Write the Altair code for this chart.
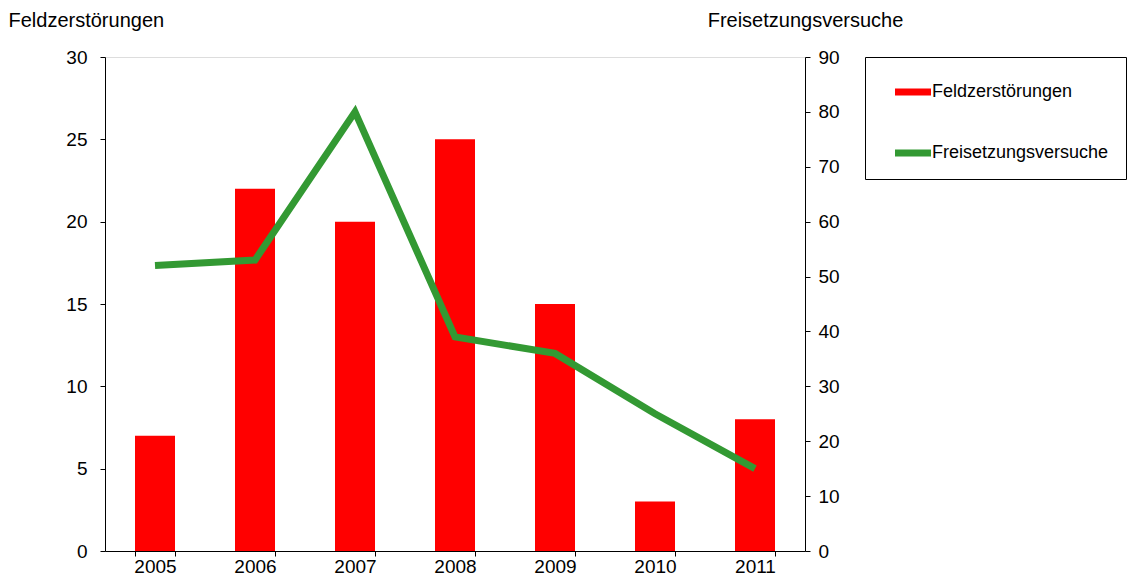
import altair as alt
import pandas as pd

years = ["2005", "2006", "2007", "2008", "2009", "2010", "2011"]
feldzerstoerungen = [7, 22, 20, 25, 15, 3, 8]
freisetzungsversuche = [52, 53, 80, 39, 36, 25, 15]

bar_df = pd.DataFrame({"year": years, "value": feldzerstoerungen, "series": "Feldzerstörungen"})
line_df = pd.DataFrame({"year": years, "value": freisetzungsversuche, "series": "Freisetzungsversuche"})

FONT = "Liberation Sans"
color_scale = alt.Scale(domain=["Feldzerstörungen", "Freisetzungsversuche"], range=["#ff0000", "#339933"])

xenc = alt.X("year:N", title=None, sort=years,
             scale=alt.Scale(paddingInner=0.6, paddingOuter=0.3),
             axis=alt.Axis(labelAngle=0, tickBand="extent", labelPadding=1, tickSize=5,
                           domainColor="#000", tickColor="#000", labelFontSize=19,
                           labelFont=FONT, labelColor="#000"))

legend = alt.Legend(title=None, orient="none", legendX=760, legendY=0,
                    symbolType="M-1,-0.2H1V0.2H-1Z", symbolSize=1296,
                    symbolStrokeWidth=0, labelFontSize=18, labelFont=FONT, labelColor="#000",
                    labelLimit=400, rowPadding=34, padding=17, strokeColor="#000",
                    fillColor="#fff", symbolOffset=13, labelOffset=1)

bars = alt.Chart(bar_df).mark_bar(size=40).encode(
    x=xenc,
    y=alt.Y("value:Q", scale=alt.Scale(domain=[0, 30], nice=False),
            axis=alt.Axis(values=[0, 5, 10, 15, 20, 25, 30], title="Feldzerstörungen",
                          titleAngle=0, titleX=-97, titleY=-37, titleAlign="left",
                          titleBaseline="middle", titleFontSize=20, titleFontWeight="normal",
                          titleFont=FONT, titleColor="#000",
                          labelFontSize=19, labelFont=FONT, labelColor="#000",
                          labelPadding=13, tickSize=5, domainColor="#000", tickColor="#000",
                          grid=False)),
    color=alt.Color("series:N", scale=color_scale, legend=legend),
)

line = alt.Chart(line_df).mark_line(strokeWidth=7).encode(
    x=xenc,
    y=alt.Y("value:Q", scale=alt.Scale(domain=[0, 90], nice=False),
            axis=alt.Axis(orient="right", values=[0, 10, 20, 30, 40, 50, 60, 70, 80, 90],
                          title="Freisetzungsversuche",
                          titleAngle=0, titleX=0, titleY=-37, titleAlign="center",
                          titleBaseline="middle", titleFontSize=20, titleFontWeight="normal",
                          titleFont=FONT, titleColor="#000",
                          labelFontSize=19, labelFont=FONT, labelColor="#000",
                          labelPadding=8, tickSize=5, domainColor="#000", tickColor="#000",
                          grid=False)),
    color=alt.Color("series:N", scale=color_scale, legend=legend),
)

chart = alt.layer(bars, line).resolve_scale(y="independent").properties(
    width=700, height=494,
    autosize=alt.AutoSizeParams(type="none"),
    padding={"left": 97, "top": 49, "right": 334, "bottom": 24},
).configure_view(stroke="#888888", strokeWidth=1).configure(background="#ffffff")

chart.save("out.html", embed_options={"renderer": "svg", "actions": False})
